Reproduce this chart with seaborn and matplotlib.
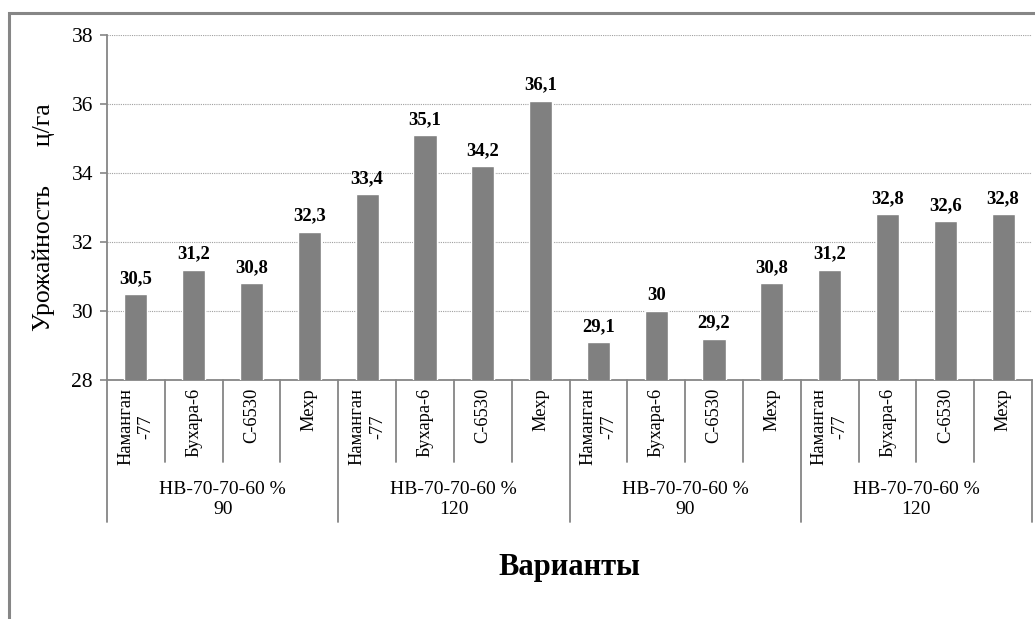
import matplotlib
matplotlib.use("Agg")
import matplotlib.pyplot as plt
import matplotlib.transforms as mtransforms
from matplotlib.patches import Rectangle
import seaborn as sns
import pandas as pd

# Data
varieties = ["Наманган\n-77", "Бухара-6", "С-6530", "Мехр"] * 4
groups = ["НВ-70-70-60 %\n90", "НВ-70-70-60 %\n120", "НВ-70-70-60 %\n90", "НВ-70-70-60 %\n120"]
yields = [30.5, 31.2, 30.8, 32.3,
          33.4, 35.1, 34.2, 36.1,
          29.1, 30.0, 29.2, 30.8,
          31.2, 32.8, 32.6, 32.8]
value_labels = ["30,5", "31,2", "30,8", "32,3",
                "33,4", "35,1", "34,2", "36,1",
                "29,1", "30", "29,2", "30,8",
                "31,2", "32,8", "32,6", "32,8"]
y_ticks = [28, 30, 32, 34, 36, 38]

sns.set_theme(style="white")
plt.rcParams["font.family"] = ["Liberation Serif", "DejaVu Serif"]
plt.rcParams["text.color"] = "black"
plt.rcParams["axes.labelcolor"] = "black"

df = pd.DataFrame({"pos": list(range(len(yields))), "yield": yields})

fig = plt.figure(figsize=(10.35, 6.19), dpi=100)
ax = fig.add_axes([107 / 1035, 1 - 380 / 619, (1032 - 107) / 1035, (380 - 35) / 619])

# Outer chart frame
fig.patches.append(Rectangle((9 / 1035, -0.05), 1.1, 1 - 13 / 619 + 0.05,
                             transform=fig.transFigure, fill=False,
                             edgecolor="#868686", linewidth=2.2, zorder=0))

sns.barplot(data=df, x="pos", y="yield", color="#808080", width=0.4,
            saturation=1, ax=ax, zorder=3)
ax.set_xlim(-0.5, len(yields) - 0.5)
ax.set_ylim(28, 38)
ax.set_yticks(y_ticks)
ax.set_yticklabels([str(t) for t in y_ticks], fontsize=15.5)
ax.yaxis.grid(True, color="#a0a0a0", linestyle=(0, (1, 1)), linewidth=0.8, zorder=0)
ax.xaxis.grid(False)

for s in ["top", "right"]:
    ax.spines[s].set_visible(False)
for s in ["left", "bottom"]:
    ax.spines[s].set_color("#868686")
    ax.spines[s].set_linewidth(1.3)
ax.tick_params(axis="y", which="both", left=True, length=5, color="#868686",
               width=1.2, pad=5, labelcolor="black")
ax.set_xticks([])
ax.set_xlabel("")
ax.set_ylabel("Урожайность      ц/га", fontsize=18.5)
ax.yaxis.set_label_coords(-52 / 925, 0.472)

# Value labels above bars
for i, (v, lab) in enumerate(zip(yields, value_labels)):
    ax.annotate(lab, (i, v), xytext=(0, 5), textcoords="offset points",
                ha="center", va="bottom", fontsize=13.5, fontweight="bold")

# Two-level category axis
trans = mtransforms.blended_transform_factory(ax.transData, ax.transAxes)
px = 1 / 345.0  # axes height in pixels
for i, name in enumerate(varieties):
    ax.text(i, -8 * px, name, transform=trans, rotation=90, ha="center", va="top",
            multialignment="center", fontsize=13.3, linespacing=1.3)
for k in range(len(yields) + 1):
    x = k - 0.5
    bottom = -142 * px if k % 4 == 0 else -82 * px
    ax.plot([x, x], [0, bottom], transform=trans, color="#868686",
            linewidth=1.3, clip_on=False)
for g, name in enumerate(groups):
    ax.text(g * 4 + 1.5, -101 * px, name, transform=trans, ha="center", va="top",
            multialignment="center", fontsize=14, linespacing=1.25)

fig.text((107 + 1032) / 2 / 1035, 1 - 568 / 619, "Варианты", ha="center", va="center",
         fontsize=22, fontweight="bold")

fig.savefig("out.png", dpi=100)
